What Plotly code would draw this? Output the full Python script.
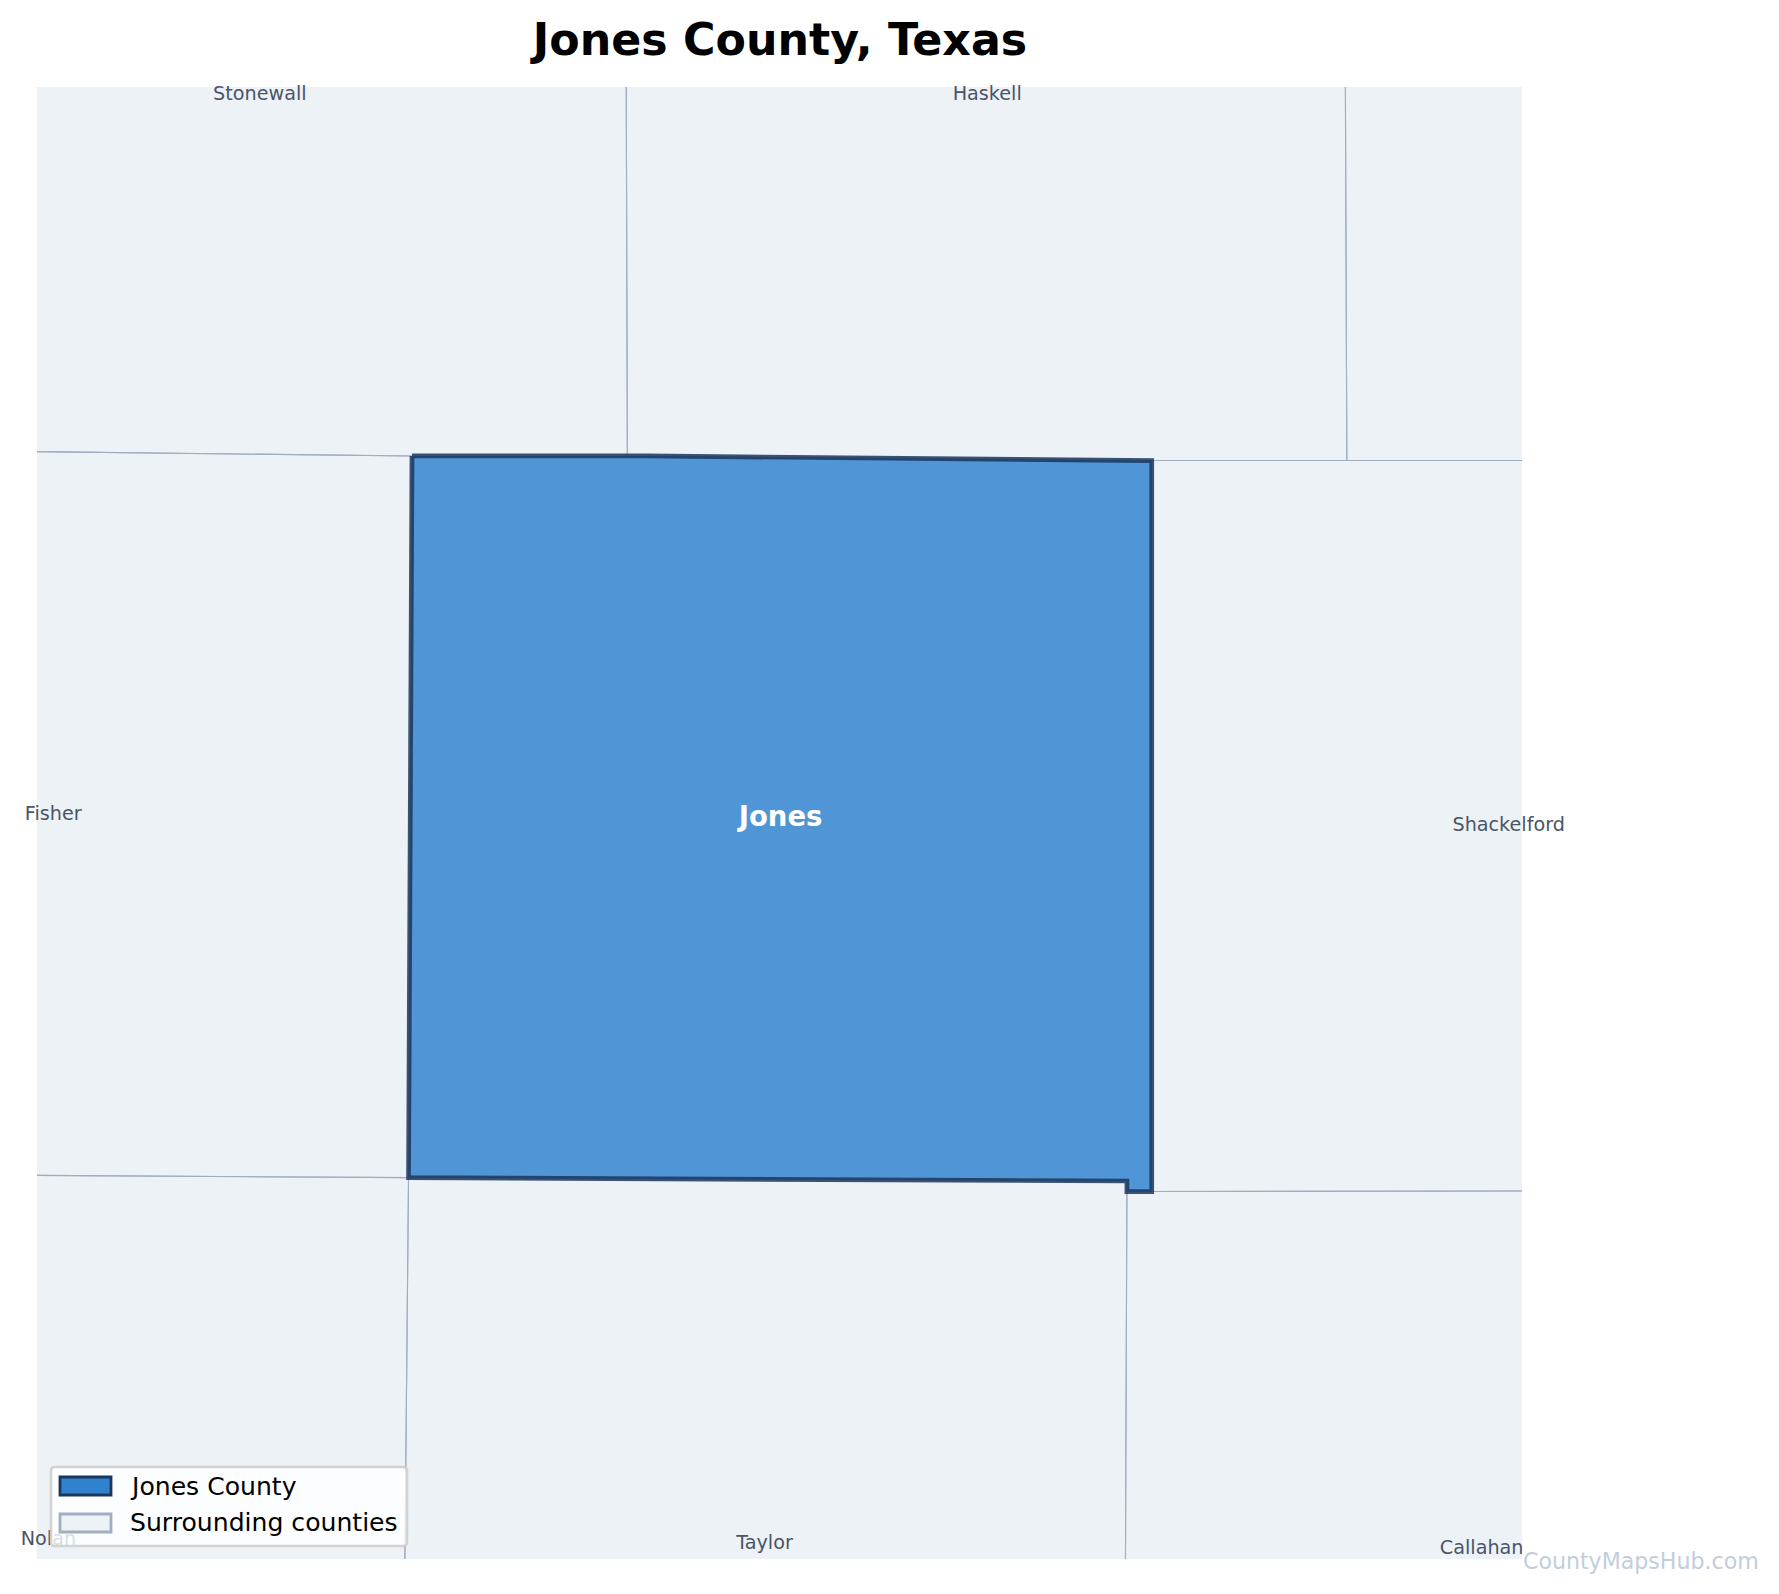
import plotly.graph_objects as go

W, H = 1779, 1594
FONT = "DejaVu Sans"

# County outlines (longitude, latitude); neighbours run past the map window
stonewall_lon = [-100.46, -99.9915, -99.9906, -100.1460, -100.46]
stonewall_lat = [33.44, 33.44, 33.1343, 33.1343, 33.1379]
haskell_lon = [-99.9915, -99.4726, -99.4714, -99.6122, -99.9766, -99.9906]
haskell_lat = [33.44, 33.44, 33.1310, 33.1310, 33.1343, 33.1343]
throckmorton_lon = [-99.4726, -99.30, -99.30, -99.4714]
throckmorton_lat = [33.44, 33.44, 33.1310, 33.1310]
fisher_lon = [-100.46, -100.1460, -100.1485, -100.46]
fisher_lat = [33.1379, 33.1343, 32.6146, 32.6165]
shackelford_lon = [-99.6122, -99.30, -99.30, -99.6122]
shackelford_lat = [33.1310, 33.1310, 32.6051, 32.6046]
nolan_lon = [-100.46, -100.1485, -100.1515, -100.46]
nolan_lat = [32.6165, 32.6146, 32.30, 32.30]
taylor_lon = [-100.1485, -99.6301, -99.6301, -99.6313, -100.1515]
taylor_lat = [32.6146, 32.6122, 32.6046, 32.30, 32.30]
callahan_lon = [-99.6301, -99.6122, -99.30, -99.30, -99.6313]
callahan_lat = [32.6046, 32.6046, 32.6051, 32.30, 32.30]
jones_lon = [-100.1460, -99.9766, -99.6122, -99.6122, -99.6301, -99.6301, -100.1485, -100.1460]
jones_lat = [33.1343, 33.1343, 33.1310, 32.6046, 32.6046, 32.6122, 32.6146, 33.1343]

neighbours = [
    ("Stonewall", stonewall_lon, stonewall_lat),
    ("Haskell", haskell_lon, haskell_lat),
    ("Throckmorton", throckmorton_lon, throckmorton_lat),
    ("Fisher", fisher_lon, fisher_lat),
    ("Shackelford", shackelford_lon, shackelford_lat),
    ("Nolan", nolan_lon, nolan_lat),
    ("Taylor", taylor_lon, taylor_lat),
    ("Callahan", callahan_lon, callahan_lat),
]

# Label anchors
label_names = ["Stonewall", "Haskell", "Fisher", "Shackelford", "Nolan", "Taylor", "Callahan"]
label_lon = [-100.2558, -99.7309, -100.4049, -99.3546, -100.4084, -99.8916, -99.3741]
label_lat = [33.3942, 33.3942, 32.8755, 32.8676, 32.3536, 32.3507, 32.3471]
main_label_lon = [-99.8800]
main_label_lat = [32.8728]

lon_range = [-100.4166, -99.3450]
lat_range = [32.34, 33.40]

L, R, T, B = 37, 1522, 87, 1559


def px(x):
    return x / W


def py(y):
    return 1 - y / H


fig = go.Figure()
for name, lon, lat in neighbours:
    fig.add_trace(go.Scatter(x=lon, y=lat, mode="lines", fill="toself", name=name,
                             fillcolor="#edf2f7", line=dict(color="#edf2f7", width=0),
                             showlegend=False, hoverinfo="name"))
for name, lon, lat in neighbours:
    fig.add_trace(go.Scatter(x=lon + lon[:1], y=lat + lat[:1], mode="lines", name=name + " border",
                             line=dict(color="#a0aec0", width=1.1),
                             showlegend=False, hoverinfo="skip"))
fig.add_trace(go.Scatter(x=jones_lon, y=jones_lat, mode="lines", fill="toself", name="Jones",
                         fillcolor="rgba(49,130,206,0.85)",
                         line=dict(color="rgba(26,54,93,0.85)", width=4.7),
                         showlegend=False, hoverinfo="name"))
fig.add_trace(go.Scatter(x=label_lon, y=label_lat, mode="text", text=label_names,
                         textposition="middle center", cliponaxis=False, showlegend=False,
                         textfont=dict(family=FONT, size=19.2, color="#4a5568"), hoverinfo="skip"))
fig.add_trace(go.Scatter(x=main_label_lon, y=main_label_lat, mode="text", text=["<b>Jones</b>"],
                         textposition="middle center", showlegend=False,
                         textfont=dict(family=FONT, size=27.5, color="white"), hoverinfo="skip"))


def rounded(x0, y0, x1, y1, r):
    return (f"M{px(x0 + r)},{py(y0)} L{px(x1 - r)},{py(y0)} Q{px(x1)},{py(y0)} {px(x1)},{py(y0 + r)} "
            f"L{px(x1)},{py(y1 - r)} Q{px(x1)},{py(y1)} {px(x1 - r)},{py(y1)} "
            f"L{px(x0 + r)},{py(y1)} Q{px(x0)},{py(y1)} {px(x0)},{py(y1 - r)} "
            f"L{px(x0)},{py(y0 + r)} Q{px(x0)},{py(y0)} {px(x0 + r)},{py(y0)} Z")


shapes = [
    dict(type="path", path=rounded(51, 1467, 407, 1546, 4), xref="paper", yref="paper", layer="above",
         fillcolor="rgba(255,255,255,0.8)", line=dict(color="rgba(204,204,204,0.85)", width=2.6)),
    dict(type="rect", x0=px(60), x1=px(111), y0=py(1477), y1=py(1495), xref="paper", yref="paper",
         layer="above", fillcolor="#3182ce", line=dict(color="#1a365d", width=2.8)),
    dict(type="rect", x0=px(60), x1=px(111), y0=py(1514), y1=py(1532), xref="paper", yref="paper",
         layer="above", fillcolor="#edf2f7", line=dict(color="#a0aec0", width=2.8)),
]

annotations = [
    dict(text="Jones County", x=px(127.5), y=py(1486), xref="paper", yref="paper", xanchor="left",
         yanchor="middle", showarrow=False, font=dict(family=FONT, size=25.1, color="black")),
    dict(text="Surrounding counties", x=px(128), y=py(1522), xref="paper", yref="paper", xanchor="left",
         yanchor="middle", showarrow=False, font=dict(family=FONT, size=25.1, color="black")),
    dict(text="CountyMapsHub.com", x=px(1761), y=py(1561), xref="paper", yref="paper", xanchor="right",
         yanchor="middle", showarrow=False, font=dict(family=FONT, size=22.1, color="#c2cedb")),
]

fig.update_layout(
    width=W, height=H, margin=dict(l=0, r=0, t=0, b=0), autosize=False,
    paper_bgcolor="white", plot_bgcolor="white", showlegend=False,
    title=dict(text="<b>Jones County, Texas</b>", x=px(780), y=py(39), xref="paper", yref="paper",
               xanchor="center", yanchor="middle", font=dict(family=FONT, size=44.3, color="black")),
    xaxis=dict(range=lon_range, domain=[px(L), px(R)], visible=False, fixedrange=True),
    yaxis=dict(range=lat_range, domain=[py(B), py(T)], visible=False, fixedrange=True),
    shapes=shapes, annotations=annotations,
)

fig.write_html("out.html", post_script="document.body.style.margin='0';",
               config=dict(displayModeBar=False))
